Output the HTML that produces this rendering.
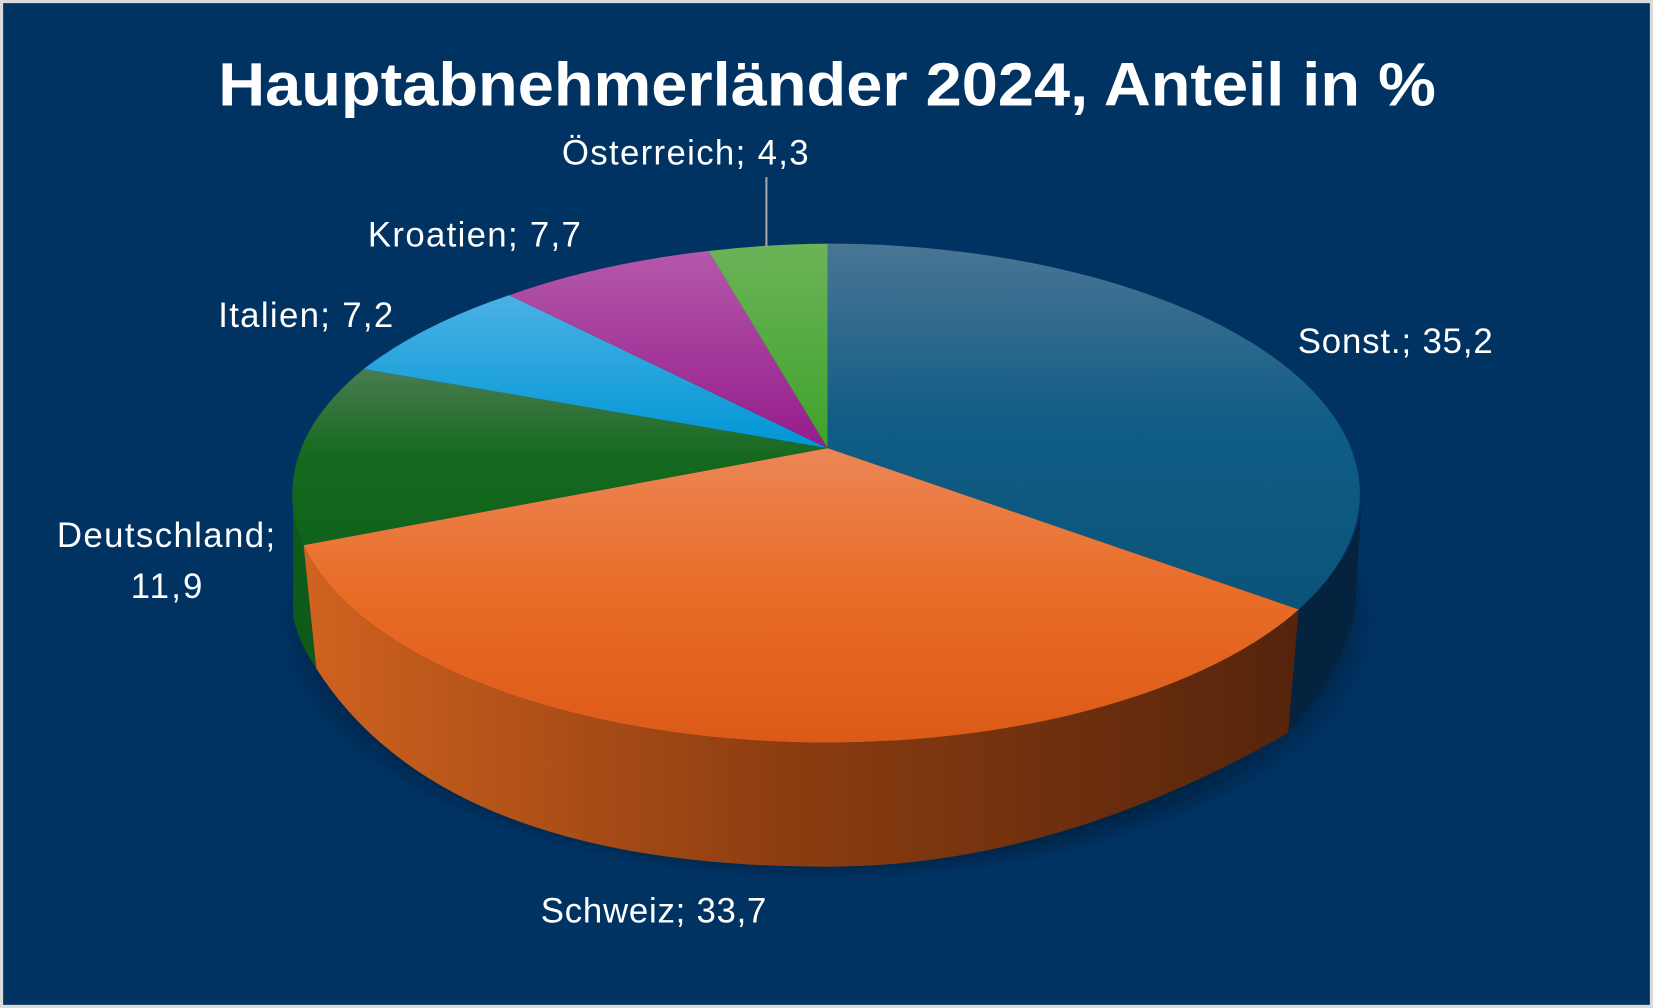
<!DOCTYPE html>
<html><head><meta charset="utf-8"><style>
html,body{margin:0;padding:0;background:#fff;}
svg{display:block}
text{font-family:"Liberation Sans",sans-serif;fill:#fff}
</style></head><body>
<svg width="1653" height="1008" viewBox="0 0 1568 956" preserveAspectRatio="none" xmlns="http://www.w3.org/2000/svg">
<defs>
<linearGradient id="gS" x1="0" y1="0" x2="0" y2="1"><stop offset="0" stop-color="#4a7594"/><stop offset="0.5" stop-color="#0f5c85"/><stop offset="1" stop-color="#0a5478"/></linearGradient>
<linearGradient id="gO" x1="0" y1="0" x2="0" y2="1"><stop offset="0" stop-color="#ec8656"/><stop offset="0.5" stop-color="#e86c26"/><stop offset="1" stop-color="#dc5a17"/></linearGradient>
<linearGradient id="gD" x1="0" y1="0" x2="0" y2="1"><stop offset="0" stop-color="#4a7c52"/><stop offset="0.5" stop-color="#15691e"/><stop offset="1" stop-color="#10641a"/></linearGradient>
<linearGradient id="gI" x1="0" y1="0" x2="0" y2="1"><stop offset="0" stop-color="#4bb1e4"/><stop offset="1" stop-color="#0096d4"/></linearGradient>
<linearGradient id="gK" x1="0" y1="0" x2="0" y2="1"><stop offset="0" stop-color="#b458aa"/><stop offset="1" stop-color="#951c8c"/></linearGradient>
<linearGradient id="gA" x1="0" y1="0" x2="0" y2="1"><stop offset="0" stop-color="#6cb358"/><stop offset="1" stop-color="#3ea32a"/></linearGradient>
<linearGradient id="gOs" x1="0" y1="0" x2="1" y2="0"><stop offset="0" stop-color="#d0621f"/><stop offset="0.5" stop-color="#8a3c10"/><stop offset="1" stop-color="#55240c"/></linearGradient>
<radialGradient id="sh" cx="0.5" cy="0.5" r="0.5"><stop offset="0.85" stop-color="#000" stop-opacity="0.5"/><stop offset="1" stop-color="#000" stop-opacity="0"/></radialGradient>
</defs>
<rect x="0" y="0" width="1568" height="956" fill="#d9d9d9"/>
<rect x="3" y="3" width="1562" height="950" fill="#003262"/>
<text x="207" y="100" font-size="58" font-weight="bold" textLength="1155" lengthAdjust="spacingAndGlyphs">Hauptabnehmerländer 2024, Anteil in %</text>
<ellipse cx="785" cy="590" rx="520" ry="245" fill="url(#sh)"/>
<path d="M278,468 A507,237 0 0 0 288,517 L300,634 A507,237 0 0 1 278,585 Z" fill="#0e5a18"/>
<path d="M288,517 A507,237 0 0 0 1232,578 L1222,695 Q1000,822 785,822 Q420,822 300,634 Z" fill="url(#gOs)"/>
<path d="M1232,578 A507,237 0 0 0 1292,468 L1285,585 Q1270,640 1222,695 Z" fill="#05233e"/>
<path d="M785,425 L785,231 A507,237 0 0 1 1232,578 Z" fill="url(#gS)"/>
<path d="M785,425 L1232,578 A507,237 0 0 1 288,517 Z" fill="url(#gO)"/>
<path d="M785,425 L288,517 A507,237 0 0 1 345,350 Z" fill="url(#gD)"/>
<path d="M785,425 L345,350 A507,237 0 0 1 483,280 Z" fill="url(#gI)"/>
<path d="M785,425 L483,280 A507,237 0 0 1 672,238 Z" fill="url(#gK)"/>
<path d="M785,425 L672,238 A507,237 0 0 1 785,231 Z" fill="url(#gA)"/>
<line x1="727" y1="168" x2="727" y2="234" stroke="#a6a6a6" stroke-width="2"/>
<g font-size="33" lengthAdjust="spacingAndGlyphs">
<text x="533" y="156" textLength="234">Österreich; 4,3</text>
<text x="349" y="234" textLength="202">Kroatien; 7,7</text>
<text x="207" y="310" textLength="166">Italien; 7,2</text>
<text x="1231" y="335" textLength="185">Sonst.; 35,2</text>
<text x="54" y="519" textLength="207">Deutschland;</text>
<text x="124" y="567" textLength="68">11,9</text>
<text x="513" y="875" textLength="214">Schweiz; 33,7</text>
</g>
</svg>
</body></html>
